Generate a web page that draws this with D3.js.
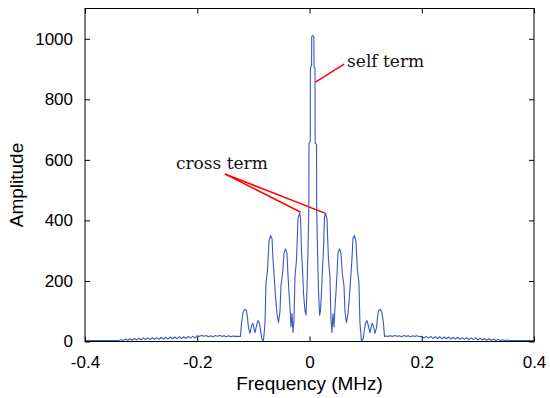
<!DOCTYPE html>
<html>
<head>
<meta charset="utf-8">
<script src="https://cdn.jsdelivr.net/npm/d3@7"></script>
<style>
  html, body { margin: 0; padding: 0; background: #fff; }
</style>
</head>
<body>
<div id="chart"></div>
<script>
// spectrum, [frequency MHz, amplitude]
const baseLeft = [
  [-0.400, 3], [-0.340, 3],
  [-0.336, 6], [-0.332, 3], [-0.328, 8], [-0.324, 4], [-0.320, 9], [-0.316, 4], [-0.312, 10], [-0.308, 5],
  [-0.304, 11], [-0.300, 5], [-0.296, 12], [-0.292, 6], [-0.288, 12], [-0.284, 6], [-0.280, 13], [-0.276, 7],
  [-0.272, 13], [-0.268, 7], [-0.264, 14], [-0.260, 8], [-0.256, 14], [-0.252, 8], [-0.248, 15], [-0.244, 9],
  [-0.240, 15], [-0.236, 9], [-0.232, 16], [-0.228, 10], [-0.224, 16], [-0.220, 10], [-0.216, 17], [-0.212, 11],
  [-0.208, 17], [-0.204, 12], [-0.200, 19], [-0.196, 17], [-0.192, 20], [-0.188, 17], [-0.184, 20], [-0.180, 16],
  [-0.176, 19], [-0.172, 16], [-0.168, 20], [-0.164, 17], [-0.160, 20], [-0.156, 17], [-0.152, 19], [-0.148, 16],
  [-0.144, 19], [-0.140, 16], [-0.136, 18], [-0.132, 17], [-0.128, 17]
]

const bandLeft = [
  [-0.1230, 17], [-0.1212, 60], [-0.1185, 95], [-0.1158, 106], [-0.1123, 103], [-0.1105, 78], [-0.1087, 45],
  [-0.1060, 27], [-0.1034, 52], [-0.1007, 60], [-0.0989, 44], [-0.0971, 29], [-0.0944, 52], [-0.0918, 69],
  [-0.0891, 60], [-0.0864, 28], [-0.0846, 6], [-0.0820, 2], [-0.0793, 60], [-0.0775, 195], [-0.0748, 235],
  [-0.0722, 330], [-0.0695, 350], [-0.0668, 340], [-0.0650, 270], [-0.0633, 225], [-0.0606, 150], [-0.0579, 90],
  [-0.0552, 62], [-0.0526, 100], [-0.0508, 185], [-0.0481, 222], [-0.0454, 292], [-0.0428, 306], [-0.0401, 292],
  [-0.0383, 218], [-0.0365, 160], [-0.0347, 110], [-0.0330, 48], [-0.0312, 92], [-0.0294, 30], [-0.0276, 75],
  [-0.0258, 215], [-0.0232, 270], [-0.0205, 405], [-0.0178, 424], [-0.0160, 408], [-0.0143, 300], [-0.0125, 240],
  [-0.0107, 160], [-0.0080, 100]
]

const mainPeak = [
  [-0.0062, 87], [-0.0045, 170], [-0.0027, 300], [-0.0012, 440], [-0.0009, 654], [0.0014, 660], [0.0016, 905],
  [0.0037, 910], [0.0040, 1008], [0.0060, 1011], [0.0078, 1006], [0.0081, 905], [0.0098, 902], [0.0101, 655],
  [0.0125, 650], [0.0128, 440], [0.0143, 300], [0.0160, 170], [0.0180, 87]
]

const bandRight = [
  [0.0195, 100], [0.0213, 160], [0.0231, 240], [0.0249, 300], [0.0266, 408], [0.0284, 424], [0.0311, 405],
  [0.0338, 270], [0.0364, 215], [0.0382, 75], [0.0400, 30], [0.0418, 92], [0.0436, 48], [0.0453, 110],
  [0.0471, 160], [0.0489, 218], [0.0507, 292], [0.0534, 306], [0.0560, 292], [0.0587, 222], [0.0614, 185],
  [0.0632, 100], [0.0658, 62], [0.0685, 90], [0.0712, 150], [0.0739, 225], [0.0756, 270], [0.0774, 340],
  [0.0801, 350], [0.0828, 330], [0.0854, 235], [0.0881, 195], [0.0899, 60], [0.0926, 2], [0.0952, 6],
  [0.0970, 28], [0.0997, 60], [0.1024, 69], [0.1050, 52], [0.1077, 29], [0.1095, 44], [0.1113, 60],
  [0.1140, 52], [0.1166, 27], [0.1193, 45], [0.1211, 78], [0.1229, 103], [0.1264, 106], [0.1291, 95],
  [0.1318, 60], [0.1336, 17]
]

const baseRight = [
  [0.136, 18], [0.140, 17], [0.144, 19], [0.148, 17], [0.152, 20], [0.156, 17], [0.160, 19], [0.164, 16],
  [0.168, 20], [0.172, 17], [0.176, 19], [0.180, 16], [0.184, 19], [0.188, 17], [0.192, 19], [0.196, 16],
  [0.200, 17], [0.204, 12], [0.208, 17], [0.212, 11], [0.216, 17], [0.220, 10], [0.224, 16], [0.228, 10],
  [0.232, 16], [0.236, 9], [0.240, 15], [0.244, 9], [0.248, 15], [0.252, 8], [0.256, 14], [0.260, 8],
  [0.264, 14], [0.268, 7], [0.272, 13], [0.276, 7], [0.280, 13], [0.284, 6], [0.288, 12], [0.292, 6],
  [0.296, 12], [0.300, 5], [0.304, 11], [0.308, 5], [0.312, 10], [0.316, 4], [0.320, 9], [0.324, 4],
  [0.328, 8], [0.332, 3], [0.336, 7], [0.340, 3], [0.344, 6], [0.348, 3], [0.352, 5], [0.356, 3],
  [0.360, 3], [0.400, 3]
]

const xTicks = [-0.4, -0.2, 0, 0.2, 0.4]
const xTickLabels = ['-0.4', '-0.2', '0', '0.2', '0.4']
const yTicks = [0, 200, 400, 600, 800, 1000]
const yTickLabels = ['0', '200', '400', '600', '800', '1000']

// annotations: label, text anchor point [f, amp], arrow tips [f, amp]
const selfTerm = { label: 'self term', at: [0.067, 906], tips: [[0.0105, 857]] }
const crossTerm = { label: 'cross term', at: [-0.238, 570], tips: [[-0.0155, 427], [0.0275, 424]] }

const W = 550
const H = 398
const margin = { top: 8.5, right: 16, bottom: 56.5, left: 85 }
const width = W - margin.left - margin.right
const height = H - margin.top - margin.bottom

const svg = d3.select('#chart')
  .append('svg')
  .attr('width', W)
  .attr('height', H)
  .style('display', 'block')

const g = svg.append('g').attr('transform', `translate(${margin.left},${margin.top})`)

const x = d3.scaleLinear().domain([-0.4, 0.4]).range([0, width])
const y = d3.scaleLinear().domain([0, 1100]).range([height, 0])

const spectrum = [].concat(baseLeft, bandLeft, mainPeak, bandRight, baseRight)

const line = d3.line()
  .x((d) => x(d[0]))
  .y((d) => y(d[1]))

g.append('path')
  .datum(spectrum)
  .attr('fill', 'none')
  .attr('stroke', '#3a58c4')
  .attr('stroke-width', 1.1)
  .attr('stroke-linejoin', 'round')
  .attr('d', line)

// matlab style box with inward ticks on all sides
const tickFont = '"Liberation Sans", Arial, sans-serif'

const xAxis = g.append('g')
  .attr('transform', `translate(0,${height})`)
  .call(d3.axisBottom(x).tickValues(xTicks).tickSizeInner(-5).tickSizeOuter(0).tickPadding(14)
    .tickFormat((d, i) => xTickLabels[i]))
xAxis.select('.domain').remove()
xAxis.selectAll('text').attr('font-size', 17).attr('font-family', tickFont).attr('fill', '#000')
xAxis.selectAll('line').attr('stroke', '#000')

const xTop = g.append('g')
  .call(d3.axisTop(x).tickValues(xTicks).tickSizeInner(-5).tickSizeOuter(0).tickFormat(''))
xTop.select('.domain').remove()
xTop.selectAll('line').attr('stroke', '#000')

const yAxis = g.append('g')
  .call(d3.axisLeft(y).tickValues(yTicks).tickSizeInner(-5).tickSizeOuter(0).tickPadding(12)
    .tickFormat((d, i) => yTickLabels[i]))
yAxis.select('.domain').remove()
yAxis.selectAll('text').attr('font-size', 17).attr('font-family', tickFont).attr('fill', '#000')
yAxis.selectAll('line').attr('stroke', '#000')

const yRight = g.append('g')
  .attr('transform', `translate(${width},0)`)
  .call(d3.axisRight(y).tickValues(yTicks).tickSizeInner(-5).tickSizeOuter(0).tickFormat(''))
yRight.select('.domain').remove()
yRight.selectAll('line').attr('stroke', '#000')

g.append('rect')
  .attr('x', 0)
  .attr('y', 0)
  .attr('width', width)
  .attr('height', height)
  .attr('fill', 'none')
  .attr('stroke', '#000')
  .attr('stroke-width', 1)

// axis titles
svg.append('text')
  .attr('x', margin.left + width / 2)
  .attr('y', 390)
  .attr('text-anchor', 'middle')
  .attr('font-family', tickFont)
  .attr('font-size', 19)
  .text('Frequency (MHz)')

svg.append('text')
  .attr('transform', `translate(23,${margin.top + height / 2 + 10}) rotate(-90)`)
  .attr('text-anchor', 'middle')
  .attr('font-family', tickFont)
  .attr('font-size', 19)
  .text('Amplitude')

// annotations
const serif = '"DejaVu Serif", Georgia, serif'
const notes = [selfTerm, crossTerm]
notes.forEach((n) => {
  const ax = x(n.at[0])
  const ay = y(n.at[1])
  n.tips.forEach((t) => {
    g.append('line')
      .attr('x1', n === selfTerm ? ax - 3 : ax + 49)
      .attr('y1', n === selfTerm ? ay - 3 : ay + 5)
      .attr('x2', x(t[0]))
      .attr('y2', y(t[1]))
      .attr('stroke', '#ff0000')
      .attr('stroke-width', 1.5)
  })
  g.append('text')
    .attr('x', ax)
    .attr('y', ay)
    .attr('font-family', serif)
    .attr('font-size', 17)
    .attr('fill', '#111')
    .text(n.label)
})
</script>
</body>
</html>
